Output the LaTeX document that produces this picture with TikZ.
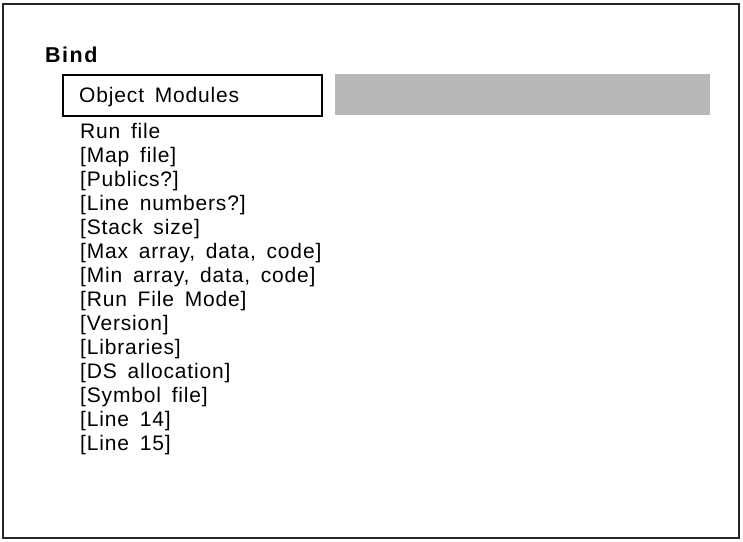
\documentclass[tikz,border=0pt]{standalone}
\usepackage{fontspec}
\setmainfont{Liberation Sans}[LetterSpace=4,WordSpace=1.6]
\newfontfamily\titlefont{Liberation Sans}[LetterSpace=7]
\begin{document}
\begin{tikzpicture}[x=1pt,y=-1pt,
  itemtext/.style={anchor=base west,inner sep=0pt,font=\fontsize{21}{24}\selectfont},
  frameline/.style={line width=1.3pt,draw=black!85}]
\useasboundingbox (0,0) rectangle (743,541);
% outer panel
\draw[frameline] (3,4) rectangle (739,538);
% title
\node[itemtext,font=\fontsize{21.5}{24}\titlefont\bfseries] (title) at (45,62) {Bind};
% input field and its shaded entry area
\draw[line width=1.4pt] (63,75) rectangle (322,116);
\node[itemtext] (objmod) at (79,102) {Object Modules};
\fill[black!28] (335,74) rectangle (710,115);
% parameter list
\foreach \t [count=\i from 0] in {Run file,[Map file],[Publics?],[Line numbers?],[Stack size],[Max array{,} data{,} code],[Min array{,} data{,} code],[Run File Mode],[Version],[Libraries],[DS allocation],[Symbol file],[Line 14],[Line 15]}
  \node[itemtext] (item\i) at (80,138+24*\i) {\t};
\end{tikzpicture}
\end{document}
